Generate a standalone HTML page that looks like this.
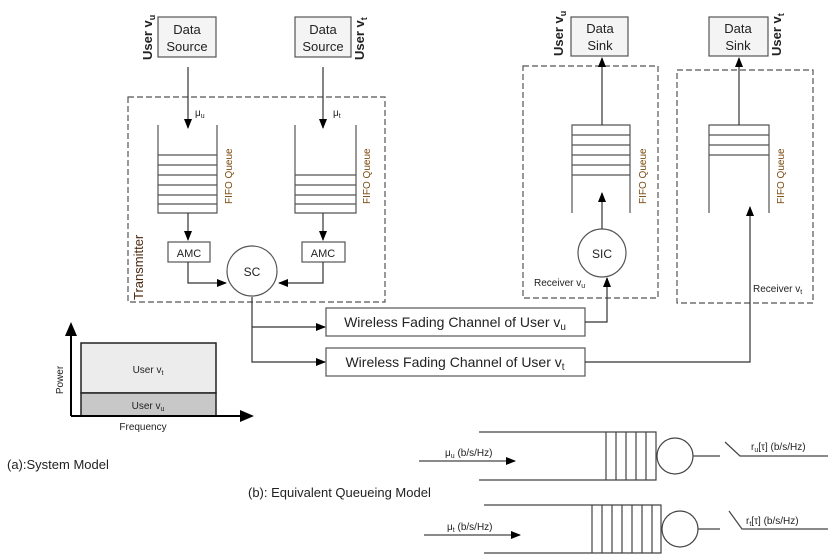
<!DOCTYPE html>
<html><head><style>body{margin:0;background:#fff}svg{display:block}text{font-family:"Liberation Sans",sans-serif}</style></head><body>
<svg width="830" height="556" viewBox="0 0 830 556" xmlns="http://www.w3.org/2000/svg">
<defs><marker id="a" markerWidth="10" markerHeight="8" refX="9" refY="4" orient="auto" markerUnits="userSpaceOnUse"><path d="M0,0L10,4L0,8z" fill="#000"/></marker></defs>
<g fill="none" stroke="#555" stroke-width="1.2">
<rect x="158" y="17" width="58" height="40" fill="#f4f4f4"/>
<rect x="295" y="17" width="56" height="40" fill="#f4f4f4"/>
<rect x="571" y="17" width="57" height="39" fill="#f4f4f4"/>
<rect x="709" y="17" width="59" height="39" fill="#f4f4f4"/>
<rect x="128" y="97" width="257" height="205" stroke-dasharray="6,3"/>
<rect x="523" y="66" width="135" height="232" stroke-dasharray="6,3"/>
<rect x="677" y="70" width="136" height="233" stroke-dasharray="6,3"/>
<path d="M158,125V213H217V125M158,155H217M158,165H217M158,175H217M158,185H217M158,195H217M158,204H217"/>
<path d="M295,125V213H356V125M295,175H356M295,185H356M295,195H356M295,204H356"/>
<path d="M572,213V125H630V213M572,135H630M572,145H630M572,155H630M572,165H630M572,175H630"/>
<path d="M709,213V125H769V213M709,135H769M709,145H769M709,155H769"/>
<rect x="168" y="242" width="42" height="20"/><rect x="302" y="242" width="43" height="20"/>
<circle cx="252" cy="271" r="25" fill="#fff"/><circle cx="602" cy="253" r="24"/>
<rect x="326" y="308" width="259" height="28"/><rect x="326" y="348" width="259" height="28"/>
</g>
<g fill="none" stroke="#333" stroke-width="1.2">
<path d="M188,67V128" marker-end="url(#a)"/><path d="M323,67V128" marker-end="url(#a)"/>
<path d="M188,213V240" marker-end="url(#a)"/><path d="M323,213V240" marker-end="url(#a)"/>
<path d="M188,262V283H226" marker-end="url(#a)"/><path d="M323,262V283H279" marker-end="url(#a)"/>
<path d="M252,297V362H325" marker-end="url(#a)"/><path d="M252,327H325" marker-end="url(#a)"/>
<path d="M585,322H607V278" marker-end="url(#a)"/><path d="M585,362H750V207" marker-end="url(#a)"/>
<path d="M602,229V193" marker-end="url(#a)"/><path d="M602,125V58" marker-end="url(#a)"/><path d="M739,125V58" marker-end="url(#a)"/>
</g>
<rect x="81" y="343" width="135" height="50" fill="#ececec" stroke="#222" stroke-width="1.5"/>
<rect x="81" y="393" width="135" height="23" fill="#c8c8c8" stroke="#222" stroke-width="1.5"/>
<path d="M71,416V336M71,416H240" stroke="#000" stroke-width="2" fill="none"/>
<path d="M65,336L71,322L77,336z M240,410L254,416L240,422z" fill="#000"/>
<g fill="none" stroke="#444" stroke-width="1.2">
<path d="M479,432H656V480H479M606,432V480M616,432V480M626,432V480M636,432V480M646,432V480"/>
<circle cx="675" cy="456" r="18"/><path d="M693,456H720M725,442L740,456H828"/>
<path d="M484,505H661V553H484M592,505V553M602,505V553M612,505V553M622,505V553M632,505V553M642,505V553M652,505V553"/>
<circle cx="680" cy="529" r="18"/><path d="M698,529H720M729,511L742,529H828"/>
<path d="M419,461H515" marker-end="url(#a)"/><path d="M424,535H520" marker-end="url(#a)"/>
</g>
<g font-size="13" fill="#222" text-anchor="middle">
<text x="187" y="34">Data</text><text x="187" y="51">Source</text>
<text x="323" y="34">Data</text><text x="323" y="51">Source</text>
<text x="600" y="33">Data</text><text x="600" y="50">Sink</text>
<text x="738" y="33">Data</text><text x="738" y="50">Sink</text>
<text x="189" y="257" font-size="11">AMC</text><text x="323" y="257" font-size="11">AMC</text>
<text x="252" y="276" font-size="12">SC</text><text x="602" y="258" font-size="12">SIC</text>
<text x="455" y="327" font-size="14">Wireless Fading Channel of User v<tspan font-size="10" dy="3">u</tspan></text>
<text x="455" y="367" font-size="14">Wireless Fading Channel of User v<tspan font-size="10" dy="3">t</tspan></text>
<text x="148" y="373" font-size="10">User v<tspan font-size="7" dy="2">t</tspan></text>
<text x="148" y="409" font-size="10">User v<tspan font-size="7" dy="2">u</tspan></text>
<text x="143" y="430" font-size="10">Frequency</text>
<text x="0" y="0" font-size="10" transform="translate(63,380) rotate(-90)">Power</text>
</g>
<g font-size="13" fill="#222" font-weight="bold">
<text transform="translate(152,60) rotate(-90)">User v<tspan font-size="9" dy="3">u</tspan></text>
<text transform="translate(364,60) rotate(-90)">User v<tspan font-size="9" dy="3">t</tspan></text>
<text transform="translate(563,56) rotate(-90)">User v<tspan font-size="9" dy="3">u</tspan></text>
<text transform="translate(781,56) rotate(-90)">User v<tspan font-size="9" dy="3">t</tspan></text>
<text transform="translate(143,300) rotate(-90)" font-weight="normal" fill="#4a2a10">Transmitter</text>
</g>
<g font-size="10" fill="#7a4a10">
<text transform="translate(232,204) rotate(-90)">FIFO Queue</text>
<text transform="translate(370,204) rotate(-90)">FIFO Queue</text>
<text transform="translate(646,204) rotate(-90)">FIFO Queue</text>
<text transform="translate(784,204) rotate(-90)">FIFO Queue</text>
</g>
<g font-size="10" fill="#222">
<text x="195" y="116">μ<tspan font-size="7" dy="2">u</tspan></text>
<text x="333" y="116">μ<tspan font-size="7" dy="2">t</tspan></text>
<text x="534" y="286">Receiver v<tspan font-size="7" dy="2">u</tspan></text>
<text x="753" y="292">Receiver v<tspan font-size="7" dy="2">t</tspan></text>
<text x="445" y="456">μ<tspan font-size="7" dy="2">u</tspan><tspan dy="-2"> (b/s/Hz)</tspan></text>
<text x="447" y="530">μ<tspan font-size="7" dy="2">t</tspan><tspan dy="-2"> (b/s/Hz)</tspan></text>
<text x="751" y="450">r<tspan font-size="7" dy="2">u</tspan><tspan dy="-2">[τ] (b/s/Hz)</tspan></text>
<text x="746" y="524">r<tspan font-size="7" dy="2">t</tspan><tspan dy="-2">[τ] (b/s/Hz)</tspan></text>
</g>
<text x="7" y="469" font-size="13" fill="#222">(a):System Model</text>
<text x="248" y="497" font-size="13" fill="#222">(b): Equivalent Queueing Model</text>
</svg>
</body></html>
